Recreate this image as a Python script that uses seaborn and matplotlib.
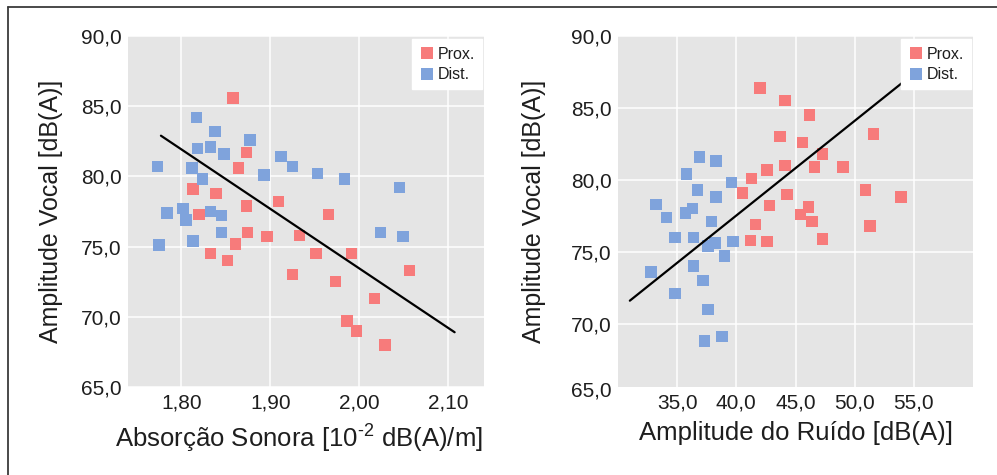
import numpy as np
import pandas as pd
import matplotlib
matplotlib.use("Agg")
import matplotlib.pyplot as plt
from matplotlib.lines import Line2D
import seaborn as sns

# ---------------- data ----------------
groups = ["Prox.", "Dist."]
colors = ["#F77B7B", "#7FA3DC"]

# Left panel: Absorção Sonora [10^-2 dB(A)/m] vs Amplitude Vocal
abs_prox_x = [1.858, 1.873, 1.864, 1.813, 1.839, 1.873, 1.909, 1.965, 1.820, 1.874,
              1.896, 1.933, 1.861, 1.833, 1.852, 1.951, 1.991, 1.925, 1.973, 2.056,
              2.017, 1.986, 1.997, 2.029]
abs_prox_y = [85.6, 81.7, 80.6, 79.1, 78.8, 77.9, 78.2, 77.3, 77.3, 76.0,
              75.7, 75.8, 75.2, 74.5, 74.0, 74.5, 74.5, 73.0, 72.5, 73.3,
              71.3, 69.7, 69.0, 68.0]
abs_dist_x = [1.817, 1.838, 1.877, 1.818, 1.833, 1.848, 1.912, 1.773, 1.812, 1.925,
              1.893, 1.953, 1.824, 1.983, 2.045, 1.784, 1.802, 1.805, 1.833, 1.845,
              1.845, 2.024, 2.049, 1.775, 1.813]
abs_dist_y = [84.2, 83.2, 82.6, 82.0, 82.1, 81.6, 81.4, 80.7, 80.6, 80.7,
              80.1, 80.2, 79.8, 79.8, 79.2, 77.4, 77.7, 76.9, 77.5, 77.2,
              76.0, 76.0, 75.7, 75.1, 75.4]
abs_trend_x = [1.777, 2.107]
abs_trend_y = [82.9, 68.9]

# Right panel: Amplitude do Ruído [dB(A)] vs Amplitude Vocal
noise_prox_x = [42.0, 44.1, 46.2, 43.7, 45.6, 51.6, 47.3, 42.6, 44.1, 46.6,
                49.0, 41.3, 40.5, 44.3, 50.9, 53.9, 42.8, 46.1, 45.4, 46.4,
                41.6, 51.3, 41.2, 42.6, 47.3]
noise_prox_y = [86.4, 85.5, 84.5, 83.0, 82.6, 83.2, 81.8, 80.7, 81.0, 80.9,
                80.9, 80.1, 79.1, 79.0, 79.3, 78.8, 78.2, 78.1, 77.6, 77.1,
                76.9, 76.8, 75.8, 75.7, 75.9]
noise_dist_x = [36.9, 38.3, 35.8, 39.6, 36.7, 38.3, 33.2, 34.1, 35.7, 36.3,
                37.9, 34.8, 36.4, 37.6, 38.2, 39.7, 39.0, 32.8, 36.4, 37.2,
                34.8, 37.6, 37.3, 38.8]
noise_dist_y = [81.6, 81.3, 80.4, 79.8, 79.3, 78.8, 78.3, 77.4, 77.7, 78.0,
                77.1, 76.0, 76.0, 75.4, 75.6, 75.7, 74.7, 73.6, 74.0, 73.0,
                72.1, 71.0, 68.8, 69.1]
noise_trend_x = [31.0, 54.1]
noise_trend_y = [71.6, 86.8]

y_ticks = [65, 70, 75, 80, 85, 90]
y_tick_labels = ["65,0", "70,0", "75,0", "80,0", "85,0", "90,0"]
abs_ticks = [1.80, 1.90, 2.00, 2.10]
abs_tick_labels = ["1,80", "1,90", "2,00", "2,10"]
noise_ticks = [35, 40, 45, 50, 55]
noise_tick_labels = ["35,0", "40,0", "45,0", "50,0", "55,0"]

ylabel = "Amplitude Vocal [dB(A)]"
xlabel_left = r"Absorção Sonora [10$^{\text{-2}}$ dB(A)/m]"
xlabel_right = "Amplitude do Ruído [dB(A)]"

# ---------------- style ----------------
sns.set_theme(style="darkgrid")
plt.rcParams["font.family"] = ["Liberation Sans", "DejaVu Sans"]
plt.rcParams["mathtext.fontset"] = "custom"
plt.rcParams["mathtext.rm"] = "Liberation Sans"
TXT = "#1e1e1e"
BG = "#E5E5E5"

fig = plt.figure(figsize=(9.97, 4.75), dpi=100)
ax1 = fig.add_axes([128 / 997, 1 - 387 / 475, 356 / 997, 351 / 475])
ax2 = fig.add_axes([618 / 997, 1 - 387 / 475, 355 / 997, 351 / 475])

def make_df(px, py, dx, dy):
    return pd.DataFrame({
        "x": list(px) + list(dx),
        "y": list(py) + list(dy),
        "grupo": [groups[0]] * len(px) + [groups[1]] * len(dx),
    })

df_left = make_df(abs_prox_x, abs_prox_y, abs_dist_x, abs_dist_y)
df_right = make_df(noise_prox_x, noise_prox_y, noise_dist_x, noise_dist_y)
pal = dict(zip(groups, colors))

for ax, df, tx, ty in [(ax1, df_left, abs_trend_x, abs_trend_y),
                       (ax2, df_right, noise_trend_x, noise_trend_y)]:
    ax.set_facecolor(BG)
    sns.scatterplot(data=df, x="x", y="y", hue="grupo", hue_order=groups,
                    palette=pal, marker="s", s=68, linewidth=0, ax=ax, zorder=3)
    sns.lineplot(x=tx, y=ty, color="black", linewidth=1.6, ax=ax, zorder=4)
    ax.grid(True, color="white", linewidth=1.1)
    for sp in ax.spines.values():
        sp.set_visible(False)
    ax.tick_params(axis="both", length=0, labelsize=15, colors=TXT, pad=4.5)
    h = [Line2D([], [], marker="s", linestyle="", markersize=8.5,
                markerfacecolor=c, markeredgewidth=0) for c in colors]
    leg = ax.legend(h, groups, loc="upper right", bbox_to_anchor=(1.0, 0.995),
                    frameon=True, fancybox=False, fontsize=11.5,
                    borderaxespad=0.1, borderpad=0.45, handletextpad=0.25,
                    handlelength=0.9, labelspacing=0.35)
    leg.get_frame().set_facecolor("white")
    leg.get_frame().set_edgecolor("white")
    leg.get_frame().set_alpha(1)
    for t in leg.get_texts():
        t.set_color(TXT)

# left axis
ax1.set_xlim(1.74, 2.14)
ax1.set_ylim(65, 90)
ax1.set_xticks(abs_ticks, abs_tick_labels)
ax1.set_yticks(y_ticks, y_tick_labels)
ax1.set_xlabel(xlabel_left, fontsize=18.5, color=TXT, va="top")
ax1.set_ylabel(ylabel, fontsize=18, color=TXT)
ax1.xaxis.set_label_coords(0.48, -0.097)
ax1.yaxis.set_label_coords(-0.183, 0.5)

# right axis
ax2.set_xlim(30, 60)
ax2.set_ylim(65.6, 90)
ax2.set_xticks(noise_ticks, noise_tick_labels)
ax2.set_yticks(y_ticks[1:], y_tick_labels[1:])
ax2.text(-0.0176, y_ticks[0] + 0.3, y_tick_labels[0], transform=ax2.get_yaxis_transform(),
         ha="right", va="center", fontsize=15, color=TXT, clip_on=False)
ax2.set_xlabel(xlabel_right, fontsize=18.5, color=TXT, va="top")
ax2.set_ylabel(ylabel, fontsize=18, color=TXT)
ax2.xaxis.set_label_coords(0.5, -0.097)
ax2.yaxis.set_label_coords(-0.203, 0.5)

# outer frame (top and left edges visible)
fig.add_artist(Line2D([8.3 / 997, 8.3 / 997], [0, 1 - 7.3 / 475],
                      transform=fig.transFigure, color="#3a3a3a", linewidth=1.3))
fig.add_artist(Line2D([8.3 / 997, 1], [1 - 7.3 / 475, 1 - 7.3 / 475],
                      transform=fig.transFigure, color="#3a3a3a", linewidth=1.3))

fig.savefig("out.png", dpi=100, facecolor="white")
